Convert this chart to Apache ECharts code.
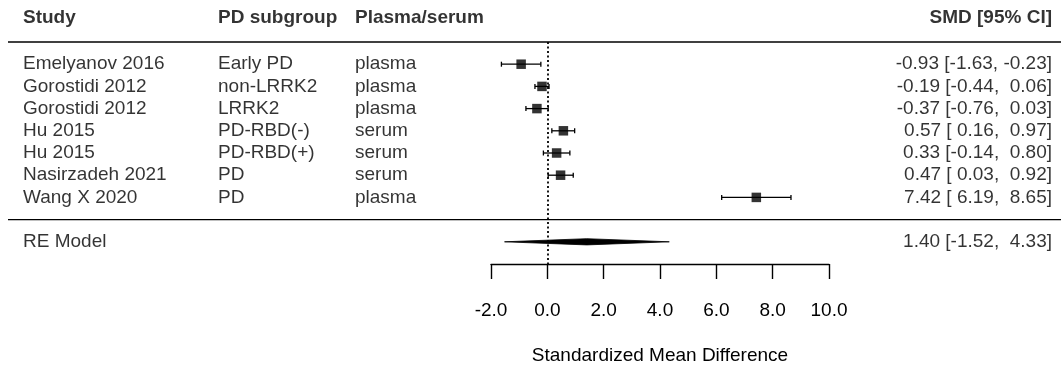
<!DOCTYPE html>
<html>
<head>
<meta charset="utf-8">
<script src="https://cdn.jsdelivr.net/npm/echarts@6/dist/echarts.min.js"></script>
<style>
  html, body { margin: 0; padding: 0; background: #fff; }
  #chart { width: 1061px; height: 365px; }
</style>
</head>
<body>
<div id="chart"></div>
<script>
// study rows, top to bottom
const studies = ['Emelyanov 2016', 'Gorostidi 2012', 'Gorostidi 2012', 'Hu 2015', 'Hu 2015', 'Nasirzadeh 2021', 'Wang X 2020'];
const subgroups = ['Early PD', 'non-LRRK2', 'LRRK2', 'PD-RBD(-)', 'PD-RBD(+)', 'PD', 'PD'];
const specimens = ['plasma', 'plasma', 'plasma', 'serum', 'serum', 'serum', 'plasma'];
const smd = [-0.93, -0.19, -0.37, 0.57, 0.33, 0.47, 7.42];
const ciLow = [-1.63, -0.44, -0.76, 0.16, -0.14, 0.03, 6.19];
const ciHigh = [-0.23, 0.06, 0.03, 0.97, 0.80, 0.92, 8.65];
// random-effects summary: estimate, lower, upper
const pooled = [1.40, -1.52, 4.33];
const headers = ['Study', 'PD subgroup', 'Plasma/serum', 'SMD [95% CI]'];
const xTickMin = -2, xTickMax = 10, xTickStep = 2;

// layout (rows in y units, columns in px of the table grid)
const rowY = studies.map((_, i) => studies.length - i);
const reRow = -1;
const headerRow = 9.07;
const separatorRows = [8, 0];
const colX = [23, 218, 355, 1052];
const font = '"Liberation Sans", Arial, sans-serif';

const fmt = v => v.toFixed(2);
const ciText = (e, lo, hi) => `${fmt(e)} [${fmt(lo).padStart(5)}, ${fmt(hi).padStart(5)}]`;

const textItems = [];
headers.forEach((h, c) => {
  textItems.push({
    value: [colX[c], headerRow],
    label: { formatter: h, fontWeight: 'bold', position: c === 3 ? 'left' : 'right' }
  });
});
studies.forEach((s, i) => {
  [s, subgroups[i], specimens[i]].forEach((t, c) => {
    textItems.push({ value: [colX[c], rowY[i]], label: { formatter: t, position: 'right' } });
  });
  textItems.push({ value: [colX[3], rowY[i]], label: { formatter: ciText(smd[i], ciLow[i], ciHigh[i]), position: 'left' } });
});
textItems.push({ value: [colX[0], reRow], label: { formatter: 'RE Model', position: 'right' } });
textItems.push({ value: [colX[3], reRow], label: { formatter: ciText(pooled[0], pooled[1], pooled[2]), position: 'left' } });

const chart = echarts.init(document.getElementById('chart'));

chart.setOption({
  animation: false,
  backgroundColor: '#fff',
  grid: [
    { left: 0, right: 0, top: 42, bottom: 101, outerBoundsMode: 'none' },
    { left: 491, right: 232, top: 42, bottom: 101, outerBoundsMode: 'none' }
  ],
  xAxis: [
    { gridIndex: 0, type: 'value', min: 0, max: 1061, show: false },
    {
      gridIndex: 1, type: 'value', min: xTickMin, max: xTickMax, interval: xTickStep,
      position: 'bottom',
      axisLine: { show: true, onZero: false, lineStyle: { color: '#000', width: 1.4 } },
      axisTick: { show: true, length: 15, lineStyle: { color: '#000', width: 1.4 } },
      axisLabel: { margin: 37, fontSize: 19, color: '#000', fontFamily: font, formatter: v => v.toFixed(1) },
      splitLine: { show: false },
      name: 'Standardized Mean Difference',
      nameLocation: 'middle',
      nameGap: 82,
      nameTextStyle: { fontSize: 19, color: '#000', fontFamily: font }
    }
  ],
  yAxis: [
    { gridIndex: 0, type: 'value', min: -2, max: 8, show: false },
    { gridIndex: 1, type: 'value', min: -2, max: 8, show: false }
  ],
  series: [
    {
      type: 'custom',
      xAxisIndex: 0, yAxisIndex: 0,
      silent: true, clip: false,
      data: separatorRows.map(y => [y]),
      renderItem: (params, api) => {
        const y = api.value(0);
        const a = api.coord([8, y]);
        const b = api.coord([1061, y]);
        return {
          type: 'line',
          shape: { x1: a[0], y1: a[1], x2: b[0], y2: b[1] },
          style: { stroke: '#000', lineWidth: 1.4 }
        };
      }
    },
    {
      type: 'scatter',
      xAxisIndex: 0, yAxisIndex: 0,
      silent: true, clip: false,
      symbolSize: 0,
      data: textItems,
      label: { show: true, distance: 0, color: '#000', fontSize: 19, fontFamily: font }
    },
    {
      type: 'custom',
      xAxisIndex: 1, yAxisIndex: 1,
      silent: true, clip: false,
      data: studies.map((_, i) => [ciLow[i], ciHigh[i], rowY[i]]),
      renderItem: (params, api) => {
        const lo = api.coord([api.value(0), api.value(2)]);
        const hi = api.coord([api.value(1), api.value(2)]);
        const st = { stroke: '#000', lineWidth: 1.3 };
        const cap = 2.5;
        return {
          type: 'group',
          children: [
            { type: 'line', shape: { x1: lo[0], y1: lo[1], x2: hi[0], y2: hi[1] }, style: st },
            { type: 'line', shape: { x1: lo[0], y1: lo[1] - cap, x2: lo[0], y2: lo[1] + cap }, style: st },
            { type: 'line', shape: { x1: hi[0], y1: hi[1] - cap, x2: hi[0], y2: hi[1] + cap }, style: st }
          ]
        };
      }
    },
    {
      type: 'scatter',
      xAxisIndex: 1, yAxisIndex: 1,
      silent: true, clip: false,
      symbol: 'rect',
      symbolSize: 9.5,
      itemStyle: { color: '#000' },
      data: smd.map((v, i) => [v, rowY[i]]),
      markLine: {
        silent: true,
        symbol: 'none',
        label: { show: false },
        lineStyle: { color: '#000', type: [2, 2.5], width: 1.8 },
        data: [[{ coord: [0, 8] }, { coord: [0, -2] }]]
      }
    },
    {
      type: 'custom',
      xAxisIndex: 1, yAxisIndex: 1,
      silent: true, clip: false,
      data: [[pooled[1], pooled[0], pooled[2], reRow]],
      renderItem: (params, api) => {
        const y = api.value(3);
        const h = 0.14;
        const pts = [
          api.coord([api.value(0), y]),
          api.coord([api.value(1), y + h]),
          api.coord([api.value(2), y]),
          api.coord([api.value(1), y - h])
        ];
        return {
          type: 'polygon',
          shape: { points: pts },
          style: { fill: '#000', stroke: '#000', lineWidth: 0.8 }
        };
      }
    }
  ]
});
</script>
</body>
</html>
